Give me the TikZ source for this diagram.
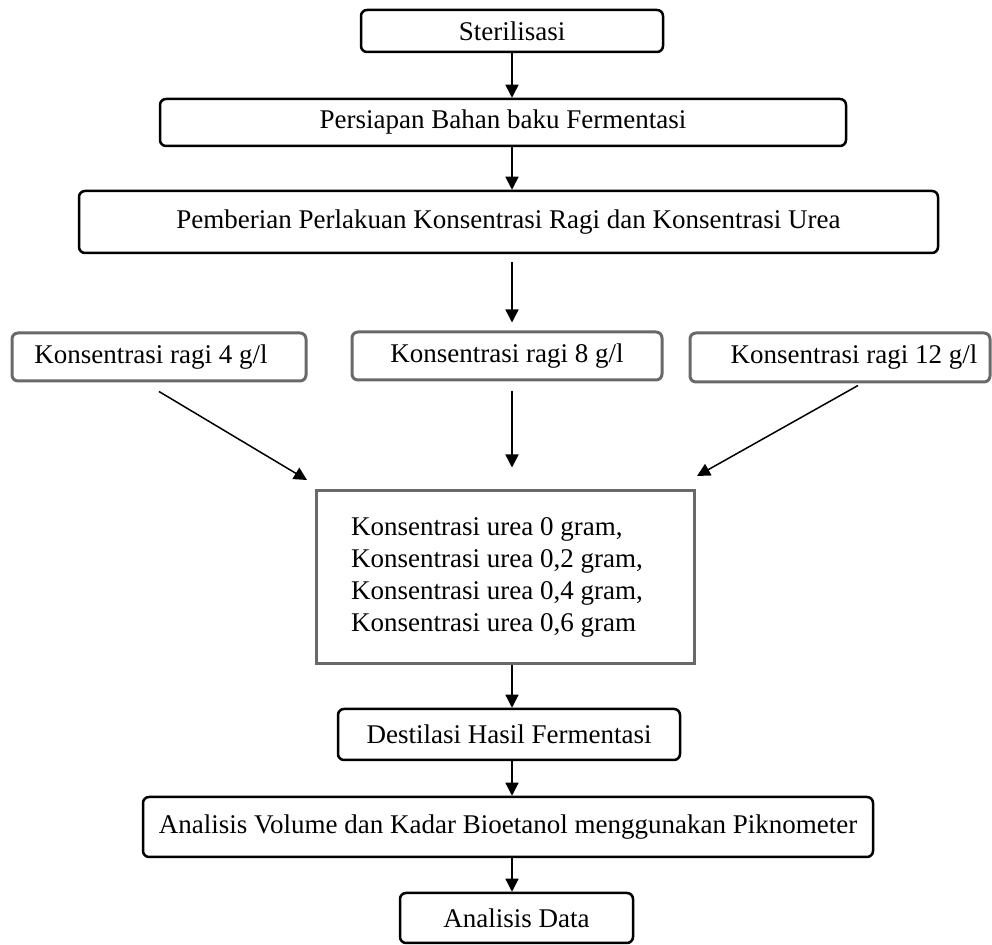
\documentclass[tikz,border=0pt]{standalone}
\usepackage{fontspec}
\setmainfont{Liberation Serif}
\usepackage{xcolor}
\usetikzlibrary{arrows.meta,positioning}
\definecolor{boxgray}{RGB}{105,105,105}
\tikzset{
  fbox/.style={draw=black, line width=1.25pt, rounded corners=3pt, align=center, font=\fontsize{13.5}{16}\selectfont, inner sep=0pt},
  gbox/.style={fbox, draw=boxgray, line width=1.5pt},
  ubox/.style={draw=boxgray, line width=1.5pt, align=left, font=\fontsize{13.5}{16}\selectfont, inner sep=0pt},
  farr/.style={-{Triangle[length=6.5pt,width=6.5pt]}, line width=0.75pt}
}

\begin{document}
\begin{tikzpicture}[x=0.5pt, y=-0.5pt]
\useasboundingbox (0,0) rectangle (992,945);
\node[fbox, minimum width=151pt, minimum height=21pt] (ster) at (512,31) {Sterilisasi};
\node[fbox, minimum width=343pt, minimum height=23.5pt] (pers) at (503,122.5) {Persiapan Bahan baku Fermentasi};
\node[fbox, minimum width=429.5pt, minimum height=31pt] (pemb) at (508.5,222) {Pemberian Perlakuan Konsentrasi Ragi dan Konsentrasi Urea};
\node[gbox, minimum width=147pt, minimum height=24pt] (k4) at (159,357) {\hspace*{-8pt}Konsentrasi ragi 4 g/l};
\node[gbox, minimum width=155pt, minimum height=24pt] (k8) at (507,356) {Konsentrasi ragi 8 g/l};
\node[gbox, minimum width=150pt, minimum height=24.5pt] (k12) at (840,357.5) {\hspace*{14pt}Konsentrasi ragi 12 g/l};
\node[ubox, minimum width=189pt, minimum height=86.5pt] (urea) at (505,577.5) {Konsentrasi urea 0 gram,\\Konsentrasi urea 0,2 gram,\hspace*{8pt}\mbox{}\\Konsentrasi urea 0,4 gram,\\Konsentrasi urea 0,6 gram};
\node[fbox, minimum width=171pt, minimum height=25.5pt] (dest) at (509,734.5) {Destilasi Hasil Fermentasi};
\node[fbox, minimum width=365pt, minimum height=30pt] (anvol) at (508,827) {Analisis Volume dan Kadar Bioetanol menggunakan Piknometer};
\node[fbox, minimum width=116.5pt, minimum height=25pt] (andata) at (516.5,918) {Analisis Data};
% axis of the vertical arrows
\coordinate (ax) at (512,0);
\coordinate (t4) at (307,480);
\coordinate (t12) at (697,476);
\draw[farr] (ax |- ster.south) -- (ax |- pers.north);
\draw[farr] (ax |- pers.south) -- (ax |- pemb.north);
\draw[farr, shorten <=4pt, shorten >=4pt] (ax |- pemb.south) -- (ax |- k8.north);
\draw[farr] ([yshift=-4.5pt]k4.south) -- (t4);
\draw[farr, shorten <=5pt, shorten >=11pt] (ax |- k8.south) -- (ax |- urea.north);
\draw[farr] ([xshift=9pt,yshift=-1pt]k12.south) -- (t12);
\draw[farr] (ax |- urea.south) -- (ax |- dest.north);
\draw[farr] (ax |- dest.south) -- (ax |- anvol.north);
\draw[farr] (ax |- anvol.south) -- (ax |- andata.north);
\end{tikzpicture}
\end{document}
